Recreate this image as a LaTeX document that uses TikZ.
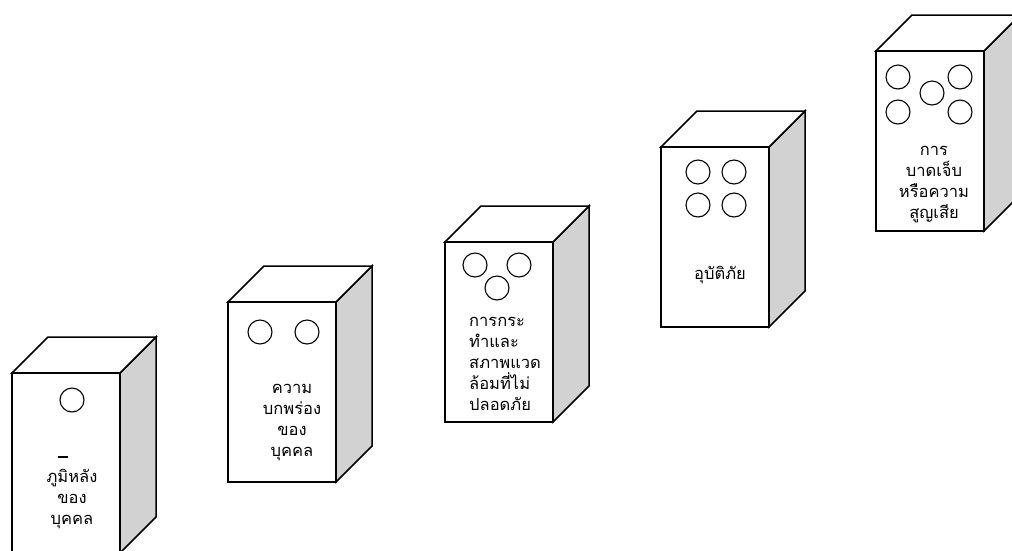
\documentclass[tikz,border=0pt]{standalone}
\usepackage{fontspec}
\newfontfamily\thaifont[Script=Thai]{Loma}
\usetikzlibrary{positioning}

\tikzset{
  face/.style={draw=black, line width=1.5pt, fill=white, line join=miter},
  sideface/.style={draw=black, line width=1.5pt, fill=gray!35, line join=miter},
  hole/.style={draw=black, line width=1.1pt},
  boxlabel/.style={font=\thaifont\fontsize{16.5}{21}\selectfont, align=center, inner sep=0pt},
}

\begin{document}
\begin{tikzpicture}[x=1pt, y=-1pt]
\useasboundingbox (0,0) rectangle (1012,550);
\clip (0,0) rectangle (1012,550);

% five boxes, named by their front top-left corner
\foreach \name/\X/\Y in {bg/12/373, fault/228/302, act/445/242, acc/661/147, inj/876/51} {
  \coordinate (\name) at (\X,\Y);
  \draw[sideface] (\X+108,\Y) -- ++(36,-36) -- ++(0,180) -- ++(-36,36) -- cycle;
  \draw[face] (\X,\Y) -- ++(36,-36) -- ++(108,0) -- ++(-36,36) -- cycle;
  \draw[face] (\X,\Y) rectangle ++(108,180);
}

% holes
\draw[hole] (72,400) circle[radius=12];
\draw[hole] (260,332) circle[radius=12];
\draw[hole] (307,332) circle[radius=12];
\draw[hole] (475,265) circle[radius=12];
\draw[hole] (519,265) circle[radius=12];
\draw[hole] (497,288) circle[radius=12];
\draw[hole] (698,172) circle[radius=12];
\draw[hole] (734,172) circle[radius=12];
\draw[hole] (698,205) circle[radius=12];
\draw[hole] (734,205) circle[radius=12];
\draw[hole] (898,77) circle[radius=12];
\draw[hole] (960,77) circle[radius=12];
\draw[hole] (932,93) circle[radius=12];
\draw[hole] (898,112) circle[radius=12];
\draw[hole] (960,112) circle[radius=12];
\draw[line width=1.2pt] (58,457) -- (68,457);

% labels
\node[boxlabel] (bgtext) at (72,499) {ภูมิหลัง\\ของ\\บุคคล};
\node[boxlabel] (faulttext) at (292,423) {ความ\\บกพร่อง\\ของ\\บุคคล};
\node[boxlabel, align=left, anchor=west] (acttext) at (469,364) {การกระ\\ทำและ\\สภาพแวด\\ล้อมที่ไม่\\ปลอดภัย};
\node[boxlabel] (acctext) at (720,275) {อุบัติภัย};
\node[boxlabel] (injtext) at (934,185) {การ\\บาดเจ็บ\\หรือความ\\สูญเสีย};
\end{tikzpicture}
\end{document}
